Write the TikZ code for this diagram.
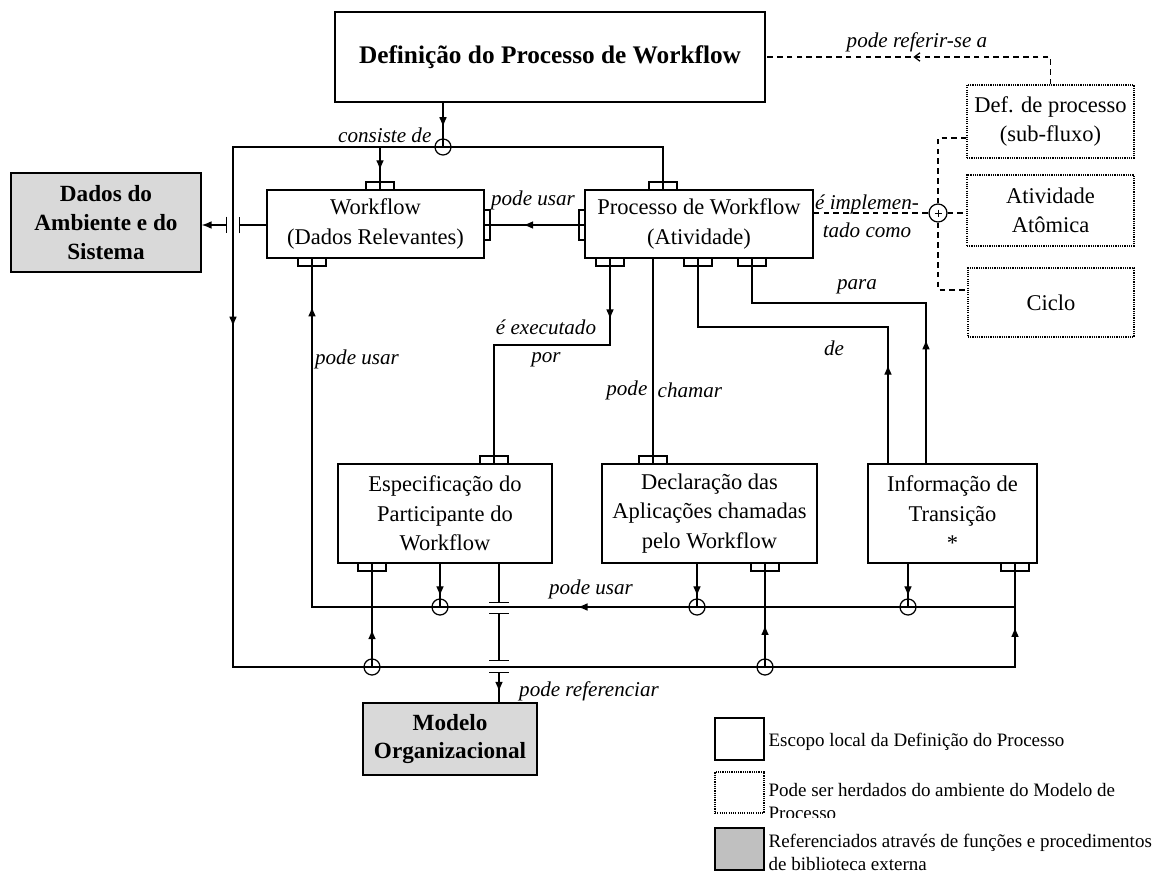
\documentclass[tikz,border=0pt]{standalone}
\usepackage{fontspec}
\setmainfont{Liberation Serif}
\usetikzlibrary{arrows.meta,decorations.markings}

\definecolor{boxgray}{HTML}{D9D9D9}
\definecolor{leggray}{HTML}{C0C0C0}

\begin{document}
\begin{tikzpicture}[x=0.025cm,y=-0.025cm,
  line width=0.9pt,
  box/.style={draw, line width=1pt, align=center, inner sep=2pt, font=\fontsize{16}{21}\selectfont},
  inh/.style={box, line width=0.9pt, dash pattern=on 0.8pt off 0.8pt},
  ext/.style={box, fill=boxgray, font=\fontsize{16.5}{20.5}\selectfont\bfseries},
  htab/.style={draw, minimum width=0.7cm, minimum height=0.2cm, inner sep=0pt},
  vtab/.style={draw, minimum width=0.15cm, minimum height=0.75cm, inner sep=0pt},
  jn/.style={draw, circle, minimum size=0.4cm, inner sep=0pt},
  lbl/.style={font=\fontsize{15}{20}\selectfont\itshape, inner sep=0pt},
  leg/.style={font=\fontsize{13.5}{16.5}\selectfont, inner sep=0pt, anchor=west, align=left},
  arr/.style={postaction={decorate,decoration={markings,mark=at position #1 with {\arrow{Latex[length=7pt,width=5.5pt]}}}}},
  arro/.style={postaction={decorate,decoration={markings,mark=at position #1 with {\arrow{Straight Barb[length=4pt,width=6pt]}}}}},
  dsh/.style={dash pattern=on 4pt off 3pt},
]
\useasboundingbox (0,0) rectangle (1170,873);
\fill[white] (0,0) rectangle (1170,873);

% ---- boxes ----
\node[box, minimum width=10.75cm, minimum height=2.25cm, font=\fontsize{18}{22}\selectfont\bfseries] (top) at (550,57) {Definição do Processo de Workflow};
\node[box, minimum width=5.425cm, minimum height=1.7cm] (wf) at (375.5,224) {Workflow\\(Dados Relevantes)};
\node[box, minimum width=5.7cm, minimum height=1.7cm] (pr) at (699,224) {Processo de Workflow\\(Atividade)};
\node[ext, minimum width=4.75cm, minimum height=2.475cm] (da) at (106,222.5) {Dados do\\Ambiente e do\\Sistema};
\node[inh, minimum width=4.175cm, minimum height=1.825cm] (dp) at (1050.5,121.5) {Def. de processo\\(sub-fluxo)};
\node[inh, minimum width=4.175cm, minimum height=1.775cm] (aa) at (1050.5,210.5) {Atividade\\Atômica};
\node[inh, minimum width=4.15cm, minimum height=1.725cm] (ci) at (1051,302.5) {Ciclo};
\node[box, minimum width=5.35cm, minimum height=2.475cm] (es) at (445,513.5) {Especificação do\\Participante do\\Workflow};
\node[box, minimum width=5.375cm, minimum height=2.475cm] (de) at (709.5,513.5) {Declaração das\\Aplicações chamadas\\pelo Workflow};
\node[box, minimum width=4.225cm, minimum height=2.475cm] (in) at (952.5,513.5) {Informação de\\Transição\\*};
\node[ext, minimum width=4.35cm, minimum height=1.8cm] (mo) at (450,739) {Modelo\\Organizacional};

% ---- ports ----
\node[htab] (tWfTop) at (380,186) {};
\node[htab] (tPrTop) at (663,186) {};
\node[vtab] (tWfR) at (487,225) {};
\node[vtab] (tPrL) at (582,225) {};
\node[htab] (tWfBot) at (312,262) {};
\node[htab] (tPb1) at (610,262) {};
\node[htab] (tPb3) at (698,262) {};
\node[htab] (tPb4) at (752,262) {};
\node[htab] (tEsTop) at (494,460) {};
\node[htab] (tDeTop) at (653,460) {};
\node[htab] (tEsBot) at (372,567) {};
\node[htab] (tDeBot) at (765,567) {};
\node[htab] (tInBot) at (1015,567) {};

% ---- junctions ----
\node[jn] (cTop) at (443,147) {};
\node[jn, minimum size=0.45cm] (cImpl) at (938,213) {};
\node[jn] (cM1) at (440,607) {};
\node[jn] (cM2) at (697,607) {};
\node[jn] (cM3) at (908,607) {};
\node[jn] (cB1) at (372,667) {};
\node[jn] (cB2) at (765,667) {};

% ---- bend points ----
\coordinate (cTL) at (233,147);
\coordinate (cBL) at (233,667);
\coordinate (cBR) at (1015,667);
\coordinate (cMR) at (1015,607);
\coordinate (cML) at (312,607);
\coordinate (exA) at (610,345);
\coordinate (deA) at (888,327);
\coordinate (paA) at (926,303);
\coordinate (brA) at (499,603);
\coordinate (brB) at (499,613);
\coordinate (brC) at (499,661);
\coordinate (brD) at (499,672);
\coordinate (bwR) at (239,225);
\coordinate (bwL) at (227,225);
\coordinate (refC) at (1050.5,57);
\coordinate (yDp) at (0,138);
\coordinate (yCi) at (0,290);

% ---- "consiste de" ----
\draw[arr=0.55] (top.south -| cTop) -- (cTop.center);
\draw (cTop.center) -| (tPrTop.south);
\draw[arr=277pt, arr=-46pt] (cTop.center) -- (cTL) -- (cBL) -- (cBR) -- (tInBot.north);
\draw[arr=0.53] (tWfTop.south |- cTop) -- (tWfTop.south);

% ---- "pode usar" (lower loop) ----
\draw[arr=311pt, arr=-35pt] (cMR) -- (cML) -- (tWfBot.north);
\draw[arr=0.75] (es.south -| cM1) -- (cM1.center);
\draw[arr=0.75] (de.south -| cM2) -- (cM2.center);
\draw[arr=0.75] (in.south -| cM3) -- (cM3.center);
\draw[arr=0.36] (cB1.center) -- (tEsBot.north);
\draw[arr=0.4] (cB2.center) -- (tDeBot.north);

% ---- to the organisational model, crossing two lines ----
\draw[-{Bar[width=14pt]}] (es.south -| brA) -- (brA);
\draw[{Bar[width=14pt]}-{Bar[width=14pt]}] (brB) -- (brC);
\draw[{Bar[width=14pt]}-, arr=0.65] (brD) -- (mo.north -| brD);

% ---- workflow data to environment data ----
\draw[-{Bar[width=12pt]}] (wf.west |- bwR) -- (bwR);
\draw[{Bar[width=12pt]}-{Latex[length=7pt,width=5.5pt]}] (bwL) -- (da.east |- bwL);

% ---- activity uses relevant data ----
\draw[arr=0.61] (tPrL.east) -- (tWfR.west);

% ---- activity links ----
\draw[arr=44pt] (tPb1.north) -- (exA) -| (tEsTop.south);
\draw (pr.south -| tDeTop) -- (tDeTop.south);
\draw[arr=70pt] (in.north -| deA) -- (deA) -| (tPb3.north);
\draw[arr=88pt] (in.north -| paA) -- (paA) -| (tPb4.north);

% ---- inherited elements ----
\draw[dsh, arro=117pt] (dp.north) -- (refC) -- (top.east);
\draw[dsh] (pr.east |- cImpl) -- (cImpl.west);
\draw[dsh] (cImpl.east) -- (aa.west |- cImpl);
\draw[dsh] (cImpl.north) |- (dp.west |- yDp);
\draw[dsh] (cImpl.south) |- (ci.west |- yCi);
\draw[line width=0.6pt] (cImpl.center) +(-3.5,0) -- +(3.5,0) (cImpl.center) +(0,-3.5) -- +(0,3.5);

% ---- connector labels ----
\node[lbl] at (917,42) {pode referir-se a};
\node[lbl, anchor=east] at (432,135) {consiste de};
\node[lbl] at (533,200) {pode usar};
\node[lbl, align=center] at (867,216.5) {é implemen-\\tado como};
\node[lbl] at (857,287) {para};
\node[lbl] at (834,348) {de};
\node[lbl, align=center] at (546,343) {é executado\\por};
\node[lbl, anchor=east] at (648,390) {pode};
\node[lbl, anchor=west] at (657,390) {chamar};
\node[lbl] at (357,359) {pode usar};
\node[lbl] at (591,589) {pode usar};
\node[lbl] at (589,691) {pode referenciar};

% ---- legend ----
\node[box, minimum width=1.225cm, minimum height=1.05cm] (lg1) at (739.5,739) {};
\node[inh, minimum width=1.225cm, minimum height=1.025cm] (lg2) at (739.5,792.5) {};
\node[box, fill=leggray, minimum width=1.225cm, minimum height=1.05cm] (lg3) at (739.5,849) {};
\node[leg] at (768,742) {Escopo local da Definição do Processo};
\node[leg] at (768,790) {Pode ser herdados do ambiente do Modelo de};
\begin{scope}
  \clip (760,802) rectangle (1170,817);
  \node[leg] at (768,813) {Processo};
\end{scope}
\node[leg] at (768,852.5) {Referenciados através de funções e procedimentos\\de biblioteca externa};
\end{tikzpicture}
\end{document}
